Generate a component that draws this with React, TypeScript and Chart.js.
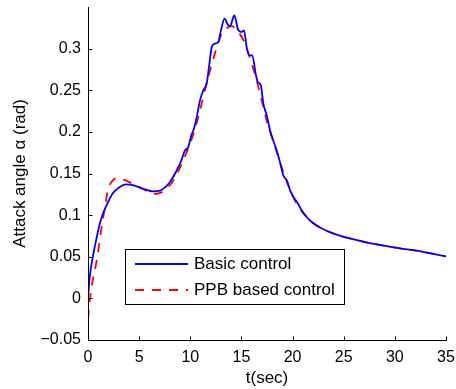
import React, { useEffect, useRef } from 'react';
import { Chart, registerables } from 'chart.js';

Chart.register(...registerables);

// ---- data ----
const tBasic = [0, 0.13, 0.29, 0.52, 0.78, 1.1, 1.44, 1.93, 2.41, 3.07, 3.7, 4.37, 5.08, 5.7, 6.4, 7.04, 7.5, 8.0, 8.67, 9.1, 9.48, 9.8, 10.1, 10.3, 10.63, 10.95, 11.27, 11.6, 11.83, 12.1, 12.4, 12.74, 13.0, 13.35, 13.66, 13.82, 13.98, 14.3, 14.7, 15.02, 15.25, 15.51, 15.74, 16.06, 16.39, 16.59, 16.9, 17.14, 17.47, 17.8, 18.1, 18.44, 18.77, 19.1, 19.44, 19.77, 20.1, 20.44, 20.9, 21.4, 21.7, 22.36, 23.0, 23.66, 24.6, 25.6, 27.2, 28.9, 30.5, 32.1, 33.76, 35];
const alphaBasic = [0, 0.021, 0.037, 0.053, 0.069, 0.087, 0.101, 0.115, 0.126, 0.1335, 0.137, 0.136, 0.133, 0.1305, 0.1285, 0.1293, 0.133, 0.1395, 0.1536, 0.165, 0.1776, 0.1816, 0.196, 0.2017, 0.2177, 0.2378, 0.25, 0.258, 0.278, 0.302, 0.306, 0.308, 0.322, 0.336, 0.329, 0.327, 0.329, 0.34, 0.322, 0.32, 0.322, 0.302, 0.292, 0.292, 0.27, 0.26, 0.256, 0.234, 0.22, 0.2017, 0.19, 0.178, 0.1636, 0.1476, 0.1416, 0.1295, 0.1215, 0.1155, 0.1055, 0.0974, 0.0935, 0.0874, 0.083, 0.0794, 0.0754, 0.072, 0.0674, 0.0634, 0.0601, 0.0574, 0.0534, 0.0505];

const tPPB = [0, 0.1, 0.2, 0.4, 0.72, 1.05, 1.27, 1.6, 1.93, 2.41, 2.9, 3.7, 4.7, 5.67, 6.4, 7.0, 7.5, 8.34, 9.3, 10.1, 10.8, 11.27, 11.76, 12.4, 13.07, 13.5, 14.05, 14.7, 15.35, 16.0, 16.49, 17.14, 17.5, 18.0, 18.5, 19.0, 19.5, 20.0, 20.5, 21.0, 22.0, 23.0, 24.6, 25.6, 27.2, 28.9, 30.5, 32.1, 33.76, 35];
const alphaPPB = [-0.025, -0.012, 0.0, 0.018, 0.037, 0.061, 0.081, 0.105, 0.1295, 0.1415, 0.1445, 0.1415, 0.1355, 0.1295, 0.1255, 0.1265, 0.1295, 0.1415, 0.1655, 0.19, 0.218, 0.242, 0.266, 0.294, 0.318, 0.324, 0.327, 0.32, 0.306, 0.282, 0.262, 0.23, 0.212, 0.193, 0.174, 0.155, 0.138, 0.123, 0.112, 0.103, 0.0905, 0.083, 0.0754, 0.072, 0.0674, 0.0634, 0.0601, 0.0574, 0.0534, 0.0505];

const seriesLabels = ['Basic control', 'PPB based control'];
const xTitle = 't(sec)';
const yTitle = 'Attack angle \u03B1 (rad)';
const xMin = 0, xMax = 35, xStep = 5;
const yMin = -0.05, yMax = 0.35, yStep = 0.05, yLabelMax = 0.3;

const FONT = "'Liberation Sans', Arial, Helvetica, sans-serif";

const fmt = (v: number) => {
  const s = String(parseFloat(v.toFixed(2)));
  return s.replace('-', '\u2212');
};

const matlabPlugin = {
  id: 'matlabAxes',
  afterDraw(chart: any) {
    const { ctx, chartArea: a, scales } = chart;
    const xs = scales.x, ys = scales.y;
    ctx.save();
    ctx.strokeStyle = '#000';
    ctx.lineWidth = 1;
    ctx.setLineDash([]);
    const L = Math.round(a.left) + 0.5;
    const B = Math.round(a.bottom) + 0.5;
    ctx.beginPath();
    ctx.moveTo(L, Math.round(a.top));
    ctx.lineTo(L, B);
    ctx.lineTo(Math.round(a.right) + 1, B);
    xs.ticks.forEach((t: any) => {
      const px = Math.round(xs.getPixelForValue(t.value)) + 0.5;
      ctx.moveTo(px, B);
      ctx.lineTo(px, B - 4);
    });
    ys.ticks.forEach((t: any) => {
      const py = Math.round(ys.getPixelForValue(t.value)) + 0.5;
      ctx.moveTo(L, py);
      ctx.lineTo(L + 4, py);
    });
    ctx.stroke();

    // legend box
    const bx = 125.5, by = 249.5, bw = 219, bh = 55;
    ctx.fillStyle = '#fff';
    ctx.fillRect(bx, by, bw, bh);
    ctx.strokeRect(bx, by, bw, bh);
    const rows = [264, 290];
    chart.data.datasets.forEach((ds: any, i: number) => {
      const yy = rows[i];
      ctx.beginPath();
      ctx.strokeStyle = ds.borderColor;
      ctx.lineWidth = ds.borderWidth;
      ctx.setLineDash(ds.borderDash || []);
      ctx.moveTo(135, yy);
      ctx.lineTo(188, yy);
      ctx.stroke();
      ctx.setLineDash([]);
      ctx.fillStyle = '#000';
      ctx.font = `17px ${FONT}`;
      ctx.textBaseline = 'middle';
      ctx.textAlign = 'left';
      ctx.fillText(ds.label, 194, yy);
    });
    ctx.restore();
  },
};

export default function App() {
  const ref = useRef<HTMLCanvasElement | null>(null);
  useEffect(() => {
    if (!ref.current) return;
    const chart = new Chart(ref.current, {
      type: 'line',
      data: {
        datasets: [
          {
            label: seriesLabels[0],
            data: tBasic.map((t, i) => ({ x: t, y: alphaBasic[i] })),
            borderColor: '#0000ff',
            borderWidth: 1.8,
            pointRadius: 0,
            fill: false,
            cubicInterpolationMode: 'monotone',
          },
          {
            label: seriesLabels[1],
            data: tPPB.map((t, i) => ({ x: t, y: alphaPPB[i] })),
            borderColor: '#ff0000',
            borderWidth: 1.8,
            borderDash: [9, 8],
            pointRadius: 0,
            fill: false,
            cubicInterpolationMode: 'monotone',
          },
        ],
      },
      options: {
        responsive: false,
        animation: false,
        devicePixelRatio: 1,
        layout: { padding: { top: 7, right: 10, left: 0, bottom: 0 } },
        plugins: { legend: { display: false }, tooltip: { enabled: false } },
        scales: {
          x: {
            type: 'linear',
            min: xMin,
            max: xMax,
            grid: { display: false, drawTicks: false },
            border: { display: false },
            ticks: {
              stepSize: xStep,
              color: '#000',
              font: { family: FONT, size: 16 },
              padding: 8,
              maxRotation: 0,
              callback: (v: any) => fmt(Number(v)),
            },
            title: {
              display: true,
              text: xTitle,
              color: '#000',
              font: { family: FONT, size: 17 },
              padding: { top: 5, bottom: 0 },
            },
            afterFit: (s: any) => {
              s.height = 49;
              s.paddingLeft = 0;
              s.paddingRight = 0;
            },
          },
          y: {
            type: 'linear',
            min: yMin,
            max: yMax,
            grid: { display: false, drawTicks: false },
            border: { display: false },
            ticks: {
              stepSize: yStep,
              color: '#000',
              font: { family: FONT, size: 16 },
              padding: 7,
              callback: (v: any) => fmt(Number(v)),
            },
            afterBuildTicks: (s: any) => {
              s.ticks = s.ticks.filter((t: any) => t.value <= yLabelMax + 1e-9);
            },
            title: {
              display: true,
              text: yTitle,
              color: '#000',
              font: { family: FONT, size: 17 },
              padding: { top: 10, bottom: 0 },
            },
            afterFit: (s: any) => {
              s.width = 88;
              s.paddingTop = 0;
              s.paddingBottom = 0;
            },
          },
        },
      },
      plugins: [matlabPlugin],
    } as any);
    return () => chart.destroy();
  }, []);
  return (
    <div style={{ position: 'absolute', left: 0, top: 0, width: 456, height: 389, background: '#fff' }}>
      <canvas ref={ref} width={456} height={389} style={{ display: 'block' }} />
    </div>
  );
}
